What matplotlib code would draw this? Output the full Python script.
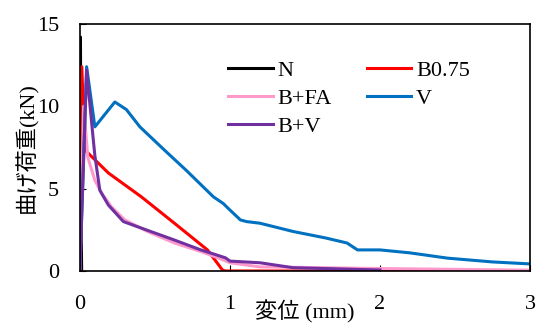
import matplotlib
matplotlib.use("Agg")
import matplotlib.pyplot as plt

plt.rcParams['font.family'] = ['Liberation Serif', 'Noto Sans CJK JP']
plt.rcParams['font.size'] = 16

# displacement (mm) / bending load (kN)
n_x = [0.0, 0.004, 0.008, 0.012]
n_y = [0.0, 14.2, 3.0, 0.0]

b075_x = [0.0, 0.013, 0.033, 0.19, 0.41, 0.63, 0.85, 0.95, 0.97, 1.5, 2.0, 2.61]
b075_y = [0.0, 12.4, 7.35, 5.95, 4.5, 2.9, 1.28, 0.06, 0.0, 0.0, 0.0, 0.0]

bfa_x = [0.0, 0.025, 0.053, 0.1, 0.147, 0.21, 0.3, 0.45, 0.63, 0.8, 0.92, 1.0, 1.2, 1.6, 2.0, 2.5, 3.0]
bfa_y = [0.0, 10.0, 6.9, 5.5, 4.7, 3.9, 3.1, 2.4, 1.7, 1.2, 0.8, 0.5, 0.25, 0.2, 0.15, 0.1, 0.05]

v_x = [0.0, 0.045, 0.1, 0.233, 0.31, 0.4, 0.51, 0.58, 0.71, 0.8, 0.89, 0.955, 1.0, 1.07, 1.11, 1.2,
       1.42, 1.64, 1.78, 1.85, 2.0, 2.2, 2.45, 2.75, 3.0]
v_y = [0.0, 12.4, 8.75, 10.26, 9.8, 8.75, 7.8, 7.2, 6.1, 5.3, 4.5, 4.1, 3.7, 3.1, 3.0, 2.9,
       2.4, 2.0, 1.7, 1.28, 1.28, 1.1, 0.78, 0.55, 0.43]

bv_x = [0.0, 0.045, 0.087, 0.1, 0.133, 0.19, 0.29, 0.35, 0.63, 0.8, 0.97, 1.0, 1.2, 1.42, 2.0]
bv_y = [0.0, 12.2, 8.2, 7.0, 4.9, 4.0, 3.0, 2.8, 1.88, 1.3, 0.8, 0.6, 0.5, 0.2, 0.06]

fig = plt.figure(figsize=(5.36, 3.23), dpi=100)
ax = fig.add_axes([0.149, 0.161, 0.84, 0.765])

lw = 2.2
l_n, = ax.plot(n_x, n_y, c='black', lw=lw, label='N')
l_b, = ax.plot(b075_x, b075_y, c='#FF0000', lw=lw, label='B0.75')
l_fa, = ax.plot(bfa_x, bfa_y, c='#FF99CC', lw=lw, label='B+FA')
l_v, = ax.plot(v_x, v_y, c='#0070C0', lw=lw, label='V')
l_bv, = ax.plot(bv_x, bv_y, c='#7030A0', lw=lw, label='B+V')

ax.set_xlim(0, 3)
ax.set_ylim(0, 15)
ax.set_xticks([0, 1, 2, 3])
ax.set_yticks([0, 5, 10, 15])
ax.tick_params(direction='in', length=4, labelsize=16)
ax.tick_params(axis='x', pad=17)
ax.tick_params(axis='y', pad=15)
for s in ax.spines.values():
    s.set_linewidth(1.2)

ax.set_xlabel('変位 (mm)', fontsize=16, labelpad=-10)
ax.set_ylabel('曲げ荷重(kN)', fontsize=16, labelpad=-1)

# column-wise fill: N, B+FA, B+V | B0.75, V
ax.legend(handles=[l_n, l_fa, l_bv, l_b, l_v], ncol=2, frameon=False,
          loc='upper left', bbox_to_anchor=(0.285, 0.935), handlelength=2.0,
          handletextpad=0.2, columnspacing=1.6, labelspacing=0.35, fontsize=16)

fig.savefig('out.png', dpi=100)
